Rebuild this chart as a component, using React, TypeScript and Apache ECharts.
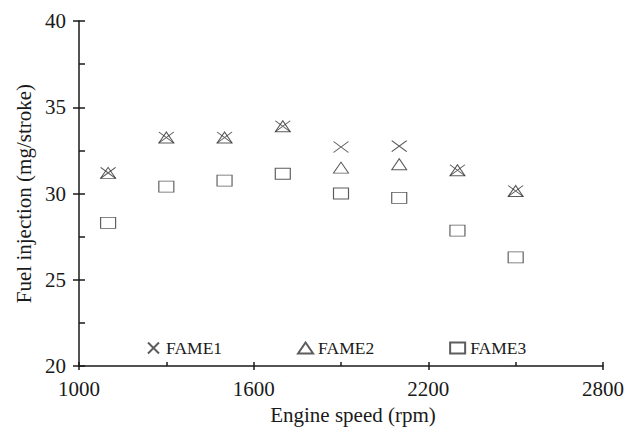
import React, { useEffect, useRef } from "react";
import * as echarts from "echarts";

const speeds = [1100, 1300, 1500, 1700, 1900, 2100, 2300, 2500];
const fame1 = [31.2, 33.25, 33.25, 33.9, 32.7, 32.75, 31.35, 30.15];
const fame2 = [31.2, 33.25, 33.25, 33.9, 31.5, 31.7, 31.35, 30.15];
const fame3 = [28.3, 30.4, 30.75, 31.15, 30.0, 29.75, 27.85, 26.3];
const seriesNames = ["FAME1", "FAME2", "FAME3"];

const FONT = "Liberation Serif";
const INK = "#1a1a1a";

export default function App() {
  const ref = useRef<HTMLDivElement>(null);
  useEffect(() => {
    if (!ref.current) return;
    const chart = echarts.init(ref.current, undefined, { renderer: "svg" });
    const pts = (ys: number[]) => speeds.map((x, i) => [x, ys[i]]);
    const markerStyle = { color: "rgba(0,0,0,0)", borderColor: "#333", borderWidth: 1 };
    chart.setOption({
      animation: false,
      backgroundColor: "#fff",
      textStyle: { fontFamily: FONT, color: INK },
      grid: { left: 79, right: 27, top: 21, bottom: 62, containLabel: false },
      legend: {
        left: 142,
        top: 334,
        itemWidth: 15,
        itemHeight: 11,
        itemGap: 75,
        textStyle: { fontFamily: FONT, fontSize: 17.5, color: INK, padding: [0, 0, 0, 0] },
        data: seriesNames,
      },
      xAxis: [
        {
          type: "value",
          min: 1000,
          max: 2800,
          interval: 300,
          name: "Engine speed (rpm)",
          nameLocation: "middle",
          nameGap: 30,
          nameTextStyle: { fontFamily: FONT, fontSize: 21, color: INK, padding: [0, 0, 0, 24] },
          axisLine: { lineStyle: { color: INK, width: 1.5 } },
          axisTick: { inside: true, length: 4, lineStyle: { color: INK, width: 1.5 } },
          axisLabel: {
            fontFamily: FONT,
            fontSize: 21,
            color: INK,
            margin: 12,
            formatter: (v: number) => ((v - 1000) % 600 === 0 ? String(v) : ""),
          },
          splitLine: { show: false },
        },
        {
          type: "value",
          position: "bottom",
          min: 1000,
          max: 2800,
          interval: 600,
          axisLine: { show: false },
          axisTick: { inside: false, length: 4, lineStyle: { color: INK, width: 1.5 } },
          axisLabel: { show: false },
          splitLine: { show: false },
        },
      ],
      yAxis: [
        {
          type: "value",
          min: 20,
          max: 40,
          interval: 2.5,
          name: "Fuel injection (mg/stroke)",
          nameLocation: "middle",
          nameGap: 44,
          nameTextStyle: { fontFamily: FONT, fontSize: 21, color: INK },
          axisLine: { show: true, lineStyle: { color: INK, width: 1.5 } },
          axisTick: { show: true, inside: true, length: 6, lineStyle: { color: INK, width: 1.5 } },
          axisLabel: {
            fontFamily: FONT,
            fontSize: 21,
            color: INK,
            margin: 13,
            formatter: (v: number) => (v % 5 === 0 ? String(v) : ""),
          },
          splitLine: { show: false },
        },
        {
          type: "value",
          position: "left",
          min: 20,
          max: 40,
          interval: 5,
          axisLine: { show: false },
          axisTick: { show: true, inside: false, length: 6, lineStyle: { color: INK, width: 1.5 } },
          axisLabel: { show: false },
          splitLine: { show: false },
        },
      ],
      series: [
        {
          name: "FAME1",
          type: "scatter",
          symbol: "path://M0,0L10,10M10,0L0,10",
          symbolSize: [15, 11],
          itemStyle: markerStyle,
          data: pts(fame1),
        },
        {
          name: "FAME2",
          type: "scatter",
          symbol: "triangle",
          symbolSize: [15, 11],
          itemStyle: markerStyle,
          data: pts(fame2),
        },
        {
          name: "FAME3",
          type: "scatter",
          symbol: "rect",
          symbolSize: [15, 11],
          itemStyle: markerStyle,
          data: pts(fame3),
        },
      ],
    });
    return () => chart.dispose();
  }, []);
  return <div ref={ref} style={{ width: 630, height: 430, position: "absolute", left: 0, top: 0 }} />;
}
